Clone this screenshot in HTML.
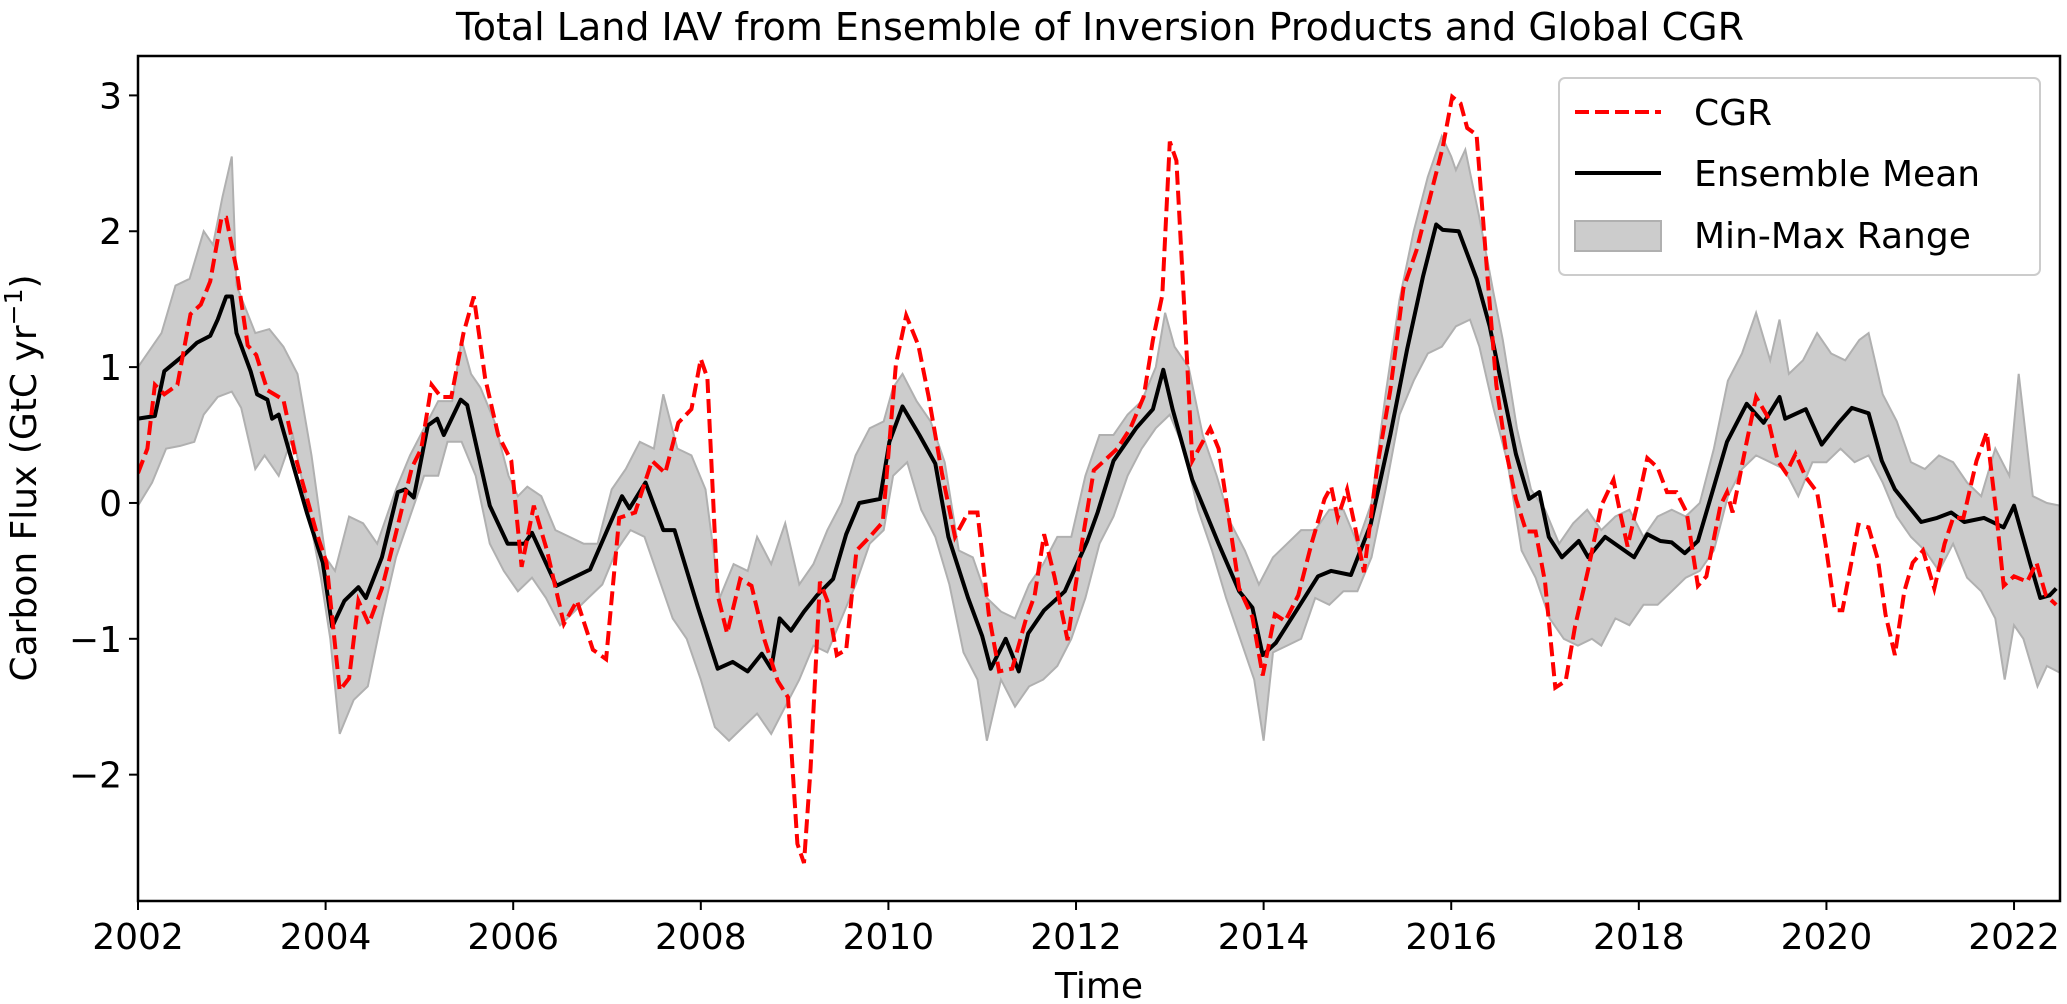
<!DOCTYPE html>
<html><head><meta charset="utf-8"><style>
html,body{margin:0;padding:0;background:#fff}
svg{display:block}
text{font-family:"DejaVu Sans","Liberation Sans",sans-serif;fill:#000}
</style></head><body>
<svg id="chart" width="2067" height="1004" viewBox="0 0 2067 1004" xmlns="http://www.w3.org/2000/svg">
<text x="1100" y="40" font-size="38" text-anchor="middle">Total Land IAV from Ensemble of Inversion Products and Global CGR</text>
<g id="plot"></g>
<g id="axes"></g>
<text x="1099" y="998" font-size="36" text-anchor="middle">Time</text>
<text transform="translate(36,478) rotate(-90)" font-size="36" text-anchor="middle">Carbon Flux (GtC yr<tspan dy="-14" font-size="25">−1</tspan><tspan dy="14">)</tspan></text>
<g>
<rect x="1559" y="78" width="481" height="197" rx="6" fill="#fff" fill-opacity="0.8" stroke="#cccccc" stroke-width="2"/>
<line x1="1575" y1="112" x2="1661" y2="112" stroke="#ff0000" stroke-width="4" stroke-dasharray="14,6"/>
<text x="1694" y="125" font-size="36">CGR</text>
<line x1="1575" y1="173" x2="1661" y2="173" stroke="#000" stroke-width="4"/>
<text x="1694" y="186" font-size="36">Ensemble Mean</text>
<rect x="1575" y="221" width="86" height="30" fill="#cccccc" stroke="#b0b0b0" stroke-width="2"/>
<text x="1694" y="248" font-size="36">Min-Max Range</text>
</g>
</svg>
<script>
const xTicks=[2002,2004,2006,2008,2010,2012,2014,2016,2018,2020,2022];
const yTicks=[-2,-1,0,1,2,3];
const yTickLabels=["−2","−1","0","1","2","3"];
const meanT=[2002.0,2002.18,2002.28,2002.49,2002.63,2002.77,2002.85,2002.94,2003.0,2003.05,2003.2,2003.27,2003.38,2003.43,2003.5,2003.62,2003.8,2003.97,2004.07,2004.2,2004.35,2004.43,2004.6,2004.77,2004.85,2004.94,2005.09,2005.19,2005.26,2005.44,2005.51,2005.75,2005.94,2006.12,2006.2,2006.46,2006.82,2007.16,2007.24,2007.41,2007.6,2007.72,2007.97,2008.18,2008.34,2008.5,2008.65,2008.75,2008.84,2008.96,2009.1,2009.24,2009.41,2009.55,2009.69,2009.91,2010.01,2010.15,2010.33,2010.5,2010.64,2010.85,2011.0,2011.09,2011.25,2011.39,2011.49,2011.66,2011.88,2012.12,2012.23,2012.4,2012.54,2012.64,2012.82,2012.93,2013.03,2013.24,2013.52,2013.74,2013.88,2013.99,2014.13,2014.37,2014.58,2014.72,2014.93,2015.14,2015.35,2015.53,2015.7,2015.84,2015.91,2016.08,2016.27,2016.41,2016.55,2016.69,2016.83,2016.94,2017.04,2017.18,2017.36,2017.46,2017.64,2017.95,2018.09,2018.23,2018.35,2018.49,2018.63,2018.8,2018.94,2019.15,2019.33,2019.5,2019.56,2019.78,2019.95,2020.13,2020.27,2020.45,2020.59,2020.73,2020.87,2021.01,2021.18,2021.33,2021.47,2021.68,2021.89,2022.0,2022.17,2022.28,2022.38,2022.45];
const meanV=[0.62,0.64,0.97,1.09,1.18,1.23,1.35,1.52,1.52,1.25,0.97,0.8,0.76,0.62,0.65,0.36,-0.07,-0.44,-0.91,-0.72,-0.62,-0.7,-0.4,0.08,0.1,0.04,0.57,0.62,0.5,0.76,0.72,-0.02,-0.3,-0.3,-0.22,-0.61,-0.49,0.05,-0.04,0.15,-0.2,-0.2,-0.77,-1.22,-1.17,-1.24,-1.11,-1.22,-0.85,-0.94,-0.8,-0.68,-0.56,-0.23,0.0,0.03,0.45,0.71,0.5,0.29,-0.25,-0.7,-0.98,-1.22,-1.0,-1.24,-0.96,-0.79,-0.65,-0.28,-0.07,0.31,0.45,0.55,0.69,0.98,0.69,0.17,-0.3,-0.65,-0.77,-1.12,-1.03,-0.77,-0.54,-0.5,-0.53,-0.16,0.5,1.13,1.67,2.05,2.01,2.0,1.65,1.3,0.83,0.36,0.03,0.08,-0.25,-0.4,-0.28,-0.4,-0.25,-0.4,-0.23,-0.28,-0.29,-0.37,-0.28,0.12,0.45,0.73,0.59,0.78,0.62,0.69,0.43,0.59,0.7,0.66,0.31,0.1,-0.02,-0.14,-0.11,-0.07,-0.14,-0.11,-0.18,-0.02,-0.44,-0.7,-0.68,-0.63];
const cgrT=[2002.0,2002.1,2002.18,2002.28,2002.42,2002.56,2002.67,2002.77,2002.89,2002.94,2003.05,2003.17,2003.26,2003.38,2003.55,2003.69,2003.9,2004.01,2004.15,2004.25,2004.35,2004.46,2004.6,2004.74,2004.92,2005.02,2005.13,2005.23,2005.34,2005.47,2005.58,2005.7,2005.84,2005.98,2006.09,2006.22,2006.36,2006.54,2006.68,2006.85,2006.99,2007.13,2007.3,2007.48,2007.62,2007.76,2007.9,2008.0,2008.07,2008.18,2008.28,2008.42,2008.54,2008.68,2008.82,2008.93,2009.03,2009.1,2009.17,2009.27,2009.35,2009.45,2009.55,2009.66,2009.8,2009.94,2010.08,2010.19,2010.32,2010.43,2010.57,2010.71,2010.85,2010.95,2011.07,2011.18,2011.32,2011.46,2011.56,2011.66,2011.77,2011.91,2012.05,2012.19,2012.3,2012.44,2012.58,2012.72,2012.82,2012.92,2013.0,2013.07,2013.15,2013.24,2013.35,2013.43,2013.52,2013.62,2013.74,2013.88,2013.99,2014.12,2014.23,2014.37,2014.51,2014.65,2014.72,2014.79,2014.89,2014.97,2015.07,2015.21,2015.35,2015.49,2015.63,2015.77,2015.91,2016.01,2016.1,2016.17,2016.27,2016.38,2016.48,2016.58,2016.69,2016.8,2016.9,2017.0,2017.11,2017.22,2017.32,2017.46,2017.6,2017.73,2017.8,2017.88,2017.98,2018.09,2018.2,2018.3,2018.4,2018.51,2018.63,2018.72,2018.87,2018.94,2019.0,2019.15,2019.25,2019.37,2019.48,2019.57,2019.67,2019.78,2019.9,2019.99,2020.09,2020.17,2020.27,2020.34,2020.45,2020.55,2020.63,2020.73,2020.83,2020.92,2021.03,2021.15,2021.26,2021.35,2021.46,2021.6,2021.71,2021.81,2021.89,2022.0,2022.14,2022.24,2022.34,2022.45];
const cgrV=[0.22,0.4,0.87,0.8,0.87,1.39,1.46,1.63,2.1,2.1,1.72,1.16,1.09,0.83,0.76,0.31,-0.21,-0.44,-1.38,-1.29,-0.72,-0.89,-0.63,-0.25,0.26,0.4,0.87,0.78,0.78,1.25,1.52,0.92,0.5,0.31,-0.47,-0.02,-0.35,-0.89,-0.72,-1.08,-1.15,-0.11,-0.07,0.31,0.22,0.59,0.69,1.06,0.92,-0.68,-0.96,-0.56,-0.61,-1.01,-1.31,-1.43,-2.51,-2.65,-1.95,-0.58,-0.72,-1.12,-1.08,-0.35,-0.25,-0.14,1.02,1.38,1.16,0.78,0.22,-0.25,-0.07,-0.07,-0.82,-1.24,-1.22,-0.87,-0.68,-0.23,-0.54,-1.01,-0.35,0.24,0.31,0.4,0.55,0.78,1.2,1.53,2.66,2.52,1.49,0.31,0.45,0.55,0.4,-0.07,-0.63,-0.84,-1.27,-0.82,-0.87,-0.68,-0.3,0.03,0.12,-0.11,0.1,-0.16,-0.51,0.26,0.83,1.58,1.86,2.24,2.62,2.99,2.94,2.76,2.71,1.72,0.87,0.4,0.03,-0.21,-0.21,-0.58,-1.36,-1.31,-0.91,-0.49,-0.02,0.17,-0.07,-0.32,-0.02,0.33,0.26,0.08,0.08,-0.07,-0.61,-0.54,-0.02,0.08,-0.07,0.45,0.78,0.64,0.31,0.22,0.36,0.19,0.08,-0.3,-0.79,-0.79,-0.42,-0.16,-0.18,-0.42,-0.82,-1.12,-0.65,-0.44,-0.35,-0.63,-0.3,-0.11,-0.11,0.31,0.52,-0.07,-0.61,-0.54,-0.58,-0.44,-0.68,-0.75];
const upT=[2002.0,2002.25,2002.4,2002.55,2002.7,2002.8,2002.9,2003.0,2003.05,2003.25,2003.4,2003.55,2003.7,2003.85,2004.0,2004.1,2004.25,2004.4,2004.55,2004.75,2004.9,2005.05,2005.2,2005.35,2005.45,2005.55,2005.65,2005.8,2005.95,2006.05,2006.15,2006.3,2006.45,2006.6,2006.75,2006.9,2007.05,2007.2,2007.35,2007.5,2007.6,2007.75,2007.9,2008.05,2008.2,2008.35,2008.5,2008.6,2008.75,2008.9,2009.05,2009.2,2009.35,2009.5,2009.65,2009.8,2009.95,2010.05,2010.15,2010.3,2010.45,2010.6,2010.75,2010.9,2011.05,2011.2,2011.35,2011.5,2011.65,2011.8,2011.95,2012.1,2012.25,2012.4,2012.55,2012.7,2012.85,2012.95,2013.05,2013.2,2013.35,2013.5,2013.65,2013.8,2013.95,2014.1,2014.25,2014.4,2014.55,2014.7,2014.85,2015.0,2015.15,2015.3,2015.45,2015.6,2015.75,2015.9,2016.0,2016.05,2016.15,2016.3,2016.45,2016.55,2016.7,2016.85,2017.0,2017.15,2017.3,2017.45,2017.6,2017.75,2017.9,2018.05,2018.2,2018.35,2018.5,2018.65,2018.8,2018.95,2019.1,2019.25,2019.4,2019.5,2019.6,2019.75,2019.9,2020.05,2020.2,2020.35,2020.45,2020.6,2020.75,2020.9,2021.05,2021.2,2021.35,2021.5,2021.65,2021.8,2021.95,2022.05,2022.2,2022.35,2022.49];
const upV=[1.0,1.25,1.6,1.65,2.0,1.9,2.25,2.55,1.6,1.25,1.28,1.15,0.95,0.35,-0.4,-0.5,-0.1,-0.15,-0.3,0.1,0.35,0.55,0.75,0.75,1.2,0.95,0.85,0.6,0.2,0.05,0.12,0.05,-0.2,-0.25,-0.3,-0.3,0.1,0.25,0.45,0.4,0.8,0.4,0.35,0.1,-0.7,-0.45,-0.5,-0.25,-0.45,-0.15,-0.6,-0.45,-0.2,0.0,0.35,0.55,0.6,0.85,0.95,0.75,0.6,0.3,-0.35,-0.4,-0.7,-0.8,-0.85,-0.6,-0.45,-0.25,-0.25,0.2,0.5,0.5,0.65,0.75,1.0,1.4,1.15,1.0,0.5,0.2,-0.15,-0.35,-0.6,-0.4,-0.3,-0.2,-0.2,-0.05,-0.05,-0.3,0.0,0.8,1.5,2.0,2.4,2.7,2.55,2.45,2.6,2.1,1.55,1.2,0.55,0.1,-0.05,-0.3,-0.15,-0.05,-0.2,-0.1,-0.05,-0.25,-0.1,-0.05,-0.1,0.0,0.4,0.9,1.1,1.4,1.05,1.35,0.95,1.05,1.25,1.1,1.05,1.2,1.25,0.8,0.6,0.3,0.25,0.35,0.3,0.15,0.05,0.4,0.2,0.95,0.05,0.0,-0.02];
const loT=[2002.0,2002.15,2002.3,2002.45,2002.6,2002.7,2002.85,2003.0,2003.1,2003.25,2003.35,2003.5,2003.65,2003.8,2003.95,2004.05,2004.15,2004.3,2004.45,2004.6,2004.75,2004.9,2005.05,2005.2,2005.3,2005.45,2005.6,2005.75,2005.9,2006.05,2006.2,2006.35,2006.5,2006.65,2006.8,2006.95,2007.1,2007.25,2007.4,2007.55,2007.7,2007.85,2008.0,2008.15,2008.3,2008.45,2008.6,2008.75,2008.9,2009.05,2009.2,2009.35,2009.5,2009.65,2009.8,2009.95,2010.05,2010.2,2010.35,2010.5,2010.65,2010.8,2010.95,2011.05,2011.2,2011.35,2011.5,2011.65,2011.8,2011.95,2012.1,2012.25,2012.4,2012.55,2012.7,2012.85,2013.0,2013.15,2013.3,2013.45,2013.6,2013.75,2013.9,2014.0,2014.1,2014.25,2014.4,2014.55,2014.7,2014.85,2015.0,2015.15,2015.3,2015.45,2015.6,2015.75,2015.9,2016.05,2016.2,2016.3,2016.45,2016.6,2016.75,2016.9,2017.05,2017.2,2017.35,2017.5,2017.6,2017.75,2017.9,2018.05,2018.2,2018.35,2018.5,2018.65,2018.8,2018.95,2019.1,2019.25,2019.4,2019.55,2019.7,2019.85,2020.0,2020.15,2020.3,2020.45,2020.6,2020.75,2020.9,2021.05,2021.2,2021.35,2021.5,2021.65,2021.8,2021.9,2022.0,2022.1,2022.25,2022.35,2022.49];
const loV=[-0.02,0.15,0.4,0.42,0.45,0.65,0.78,0.82,0.7,0.25,0.35,0.2,0.5,0.0,-0.55,-1.0,-1.7,-1.45,-1.35,-0.85,-0.4,-0.1,0.2,0.2,0.45,0.45,0.2,-0.3,-0.5,-0.65,-0.55,-0.7,-0.9,-0.8,-0.7,-0.6,-0.35,-0.2,-0.25,-0.55,-0.85,-1.0,-1.3,-1.65,-1.75,-1.65,-1.55,-1.7,-1.5,-1.3,-1.05,-1.1,-0.85,-0.6,-0.3,-0.2,0.2,0.3,-0.05,-0.25,-0.6,-1.1,-1.3,-1.75,-1.3,-1.5,-1.35,-1.3,-1.2,-1.0,-0.7,-0.3,-0.1,0.2,0.4,0.55,0.65,0.4,-0.05,-0.35,-0.7,-1.0,-1.3,-1.75,-1.1,-1.05,-1.0,-0.7,-0.75,-0.65,-0.65,-0.4,0.1,0.65,0.9,1.1,1.15,1.3,1.35,1.15,0.7,0.3,-0.35,-0.55,-0.85,-1.0,-1.05,-1.0,-1.05,-0.85,-0.9,-0.75,-0.75,-0.65,-0.55,-0.5,-0.35,0.05,0.25,0.35,0.3,0.25,0.05,0.3,0.3,0.4,0.3,0.35,0.15,-0.1,-0.25,-0.35,-0.5,-0.3,-0.55,-0.65,-0.85,-1.3,-0.9,-1.0,-1.35,-1.2,-1.25];

const L=138,R=2060,T=56,B=901,X0=2002,X1=2022.49,Y0=-2.93,Y1=3.29;
function sx(t){return L+(t-X0)/(X1-X0)*(R-L);}
function sy(v){return B-(v-Y0)/(Y1-Y0)*(B-T);}
const NS="http://www.w3.org/2000/svg";
const plot=document.getElementById('plot'),axes=document.getElementById('axes');
function mk(tag,attrs,parent){const e=document.createElementNS(NS,tag);for(const k in attrs)e.setAttribute(k,attrs[k]);parent.appendChild(e);return e;}
function pts(ts,vs){return ts.map((t,i)=>sx(t).toFixed(1)+','+sy(vs[i]).toFixed(1));}
// clip
const defs=mk('defs',{},plot);const cp=mk('clipPath',{id:'clip'},defs);mk('rect',{x:L,y:T,width:R-L,height:B-T},cp);
const g=mk('g',{'clip-path':'url(#clip)'},plot);
const band=mk('polygon',{points:pts(upT,upV).concat(pts(loT,loV).reverse()).join(' '),fill:'#cccccc',stroke:'#b0b0b0','stroke-width':2},g);


const mean=mk('polyline',{points:pts(meanT,meanV).join(' '),fill:'none',stroke:'#000','stroke-width':4,'stroke-linejoin':'round'},g);


const cgr=mk('polyline',{points:pts(cgrT,cgrV).join(' '),fill:'none',stroke:'#ff0000','stroke-width':4,'stroke-dasharray':'14,6'},g);


const frame=mk('rect',{x:L,y:T,width:R-L,height:B-T,fill:'none',stroke:'#000','stroke-width':2.5},axes);


xTicks.forEach(t=>{const x=sx(t);
 const tk=mk('line',{x1:x,y1:B,x2:x,y2:B+9,stroke:'#000','stroke-width':2},axes);
 
 
 const tx=mk('text',{x:x,y:B+48,'font-size':36,'text-anchor':'middle'},axes);tx.textContent=String(t);
 
 
});
yTicks.forEach((v,i)=>{const y=sy(v);
 const tk=mk('line',{x1:L-9,y1:y,x2:L,y2:y,stroke:'#000','stroke-width':2},axes);
 
 
 const tx=mk('text',{x:L-16,y:y+13,'font-size':36,'text-anchor':'end'},axes);tx.textContent=yTickLabels[i];
 
 
});
</script>
</body></html>
